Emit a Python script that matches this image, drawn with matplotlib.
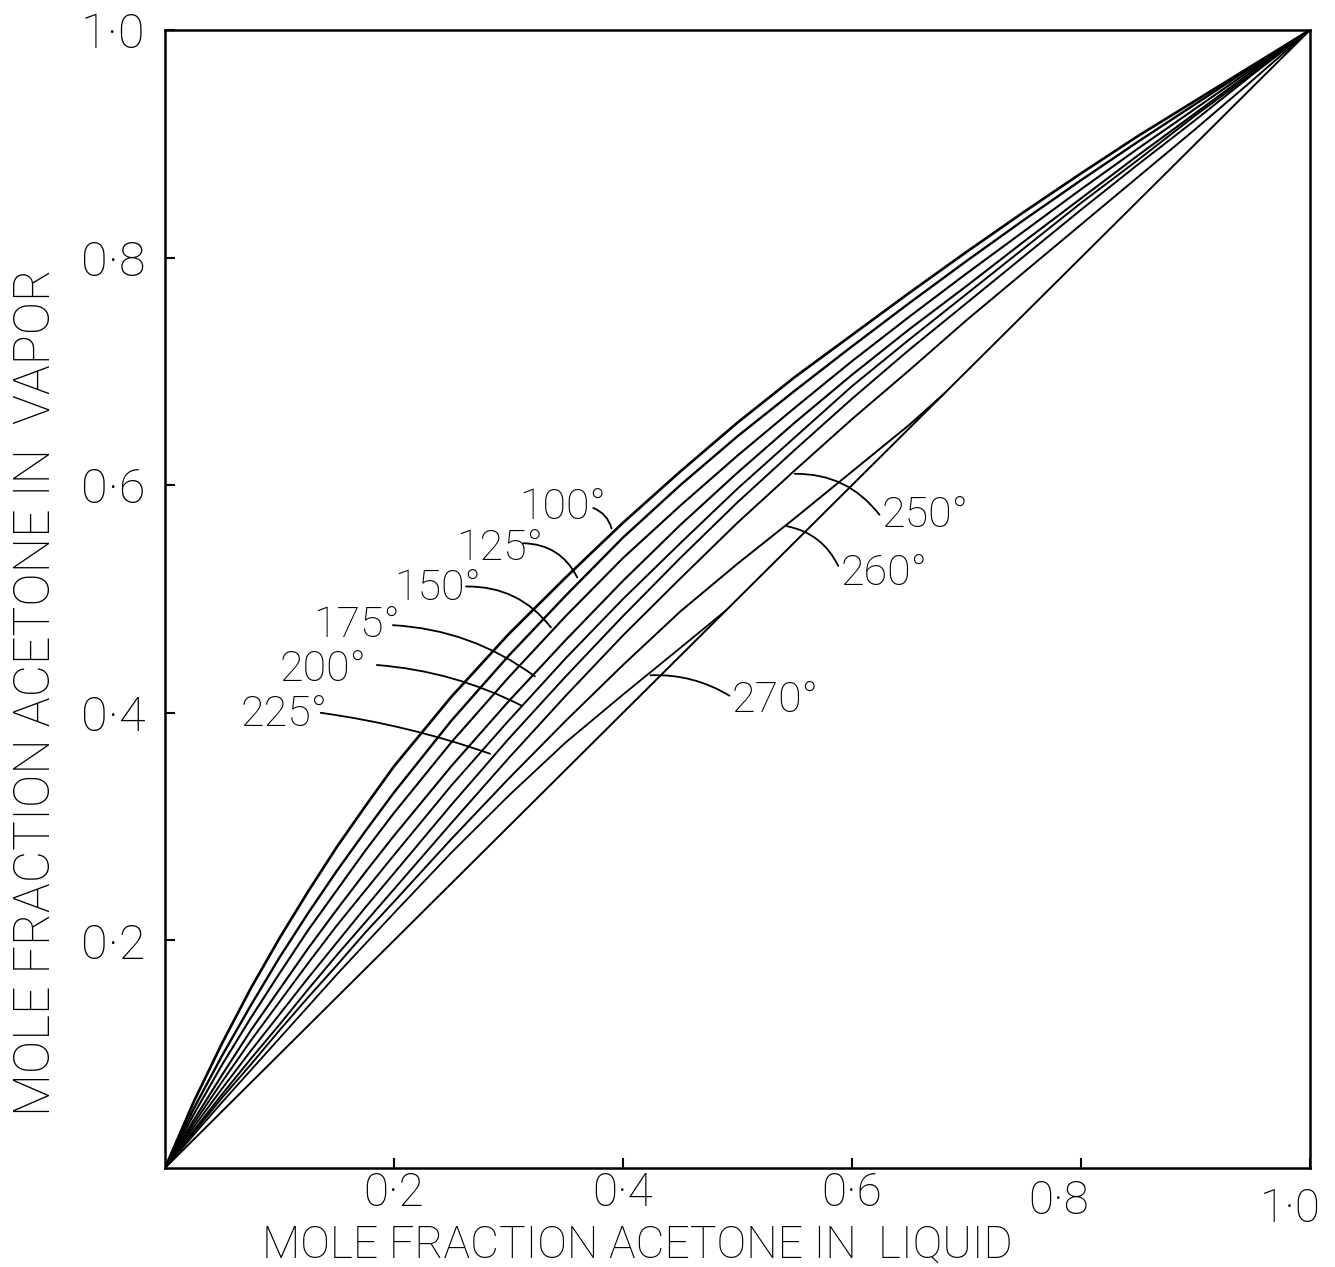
import matplotlib
matplotlib.use("Agg")
import matplotlib.pyplot as plt
from matplotlib.transforms import ScaledTranslation

# ---------------- data ----------------
x_grid = [0, 0.025, 0.05, 0.075, 0.1, 0.125, 0.15, 0.175, 0.2, 0.25, 0.3, 0.35, 0.4,
          0.45, 0.5, 0.55, 0.6, 0.65, 0.7, 0.75, 0.8, 0.85, 0.9, 0.95, 1.0]
y_100 = [0, 0.058, 0.110, 0.158, 0.202, 0.243, 0.282, 0.318, 0.353, 0.414, 0.469, 0.519, 0.567,
         0.612, 0.655, 0.695, 0.732, 0.769, 0.805, 0.840, 0.874, 0.907, 0.938, 0.969, 1.0]
y_125 = [0, 0.052, 0.099, 0.143, 0.185, 0.224, 0.261, 0.296, 0.330, 0.393, 0.450, 0.503, 0.554,
         0.600, 0.643, 0.683, 0.722, 0.760, 0.797, 0.833, 0.868, 0.902, 0.935, 0.968, 1.0]
y_150 = [0, 0.047, 0.091, 0.132, 0.171, 0.209, 0.244, 0.279, 0.312, 0.374, 0.431, 0.485, 0.536,
         0.582, 0.626, 0.668, 0.709, 0.748, 0.786, 0.823, 0.860, 0.896, 0.931, 0.966, 1.0]
y_175 = [0, 0.042, 0.082, 0.121, 0.157, 0.193, 0.227, 0.260, 0.292, 0.353, 0.410, 0.464, 0.516,
         0.565, 0.611, 0.655, 0.697, 0.737, 0.775, 0.814, 0.852, 0.890, 0.927, 0.964, 1.0]
y_200 = [0, 0.039, 0.076, 0.112, 0.146, 0.180, 0.213, 0.244, 0.275, 0.336, 0.393, 0.448, 0.500,
         0.549, 0.597, 0.642, 0.687, 0.728, 0.768, 0.808, 0.848, 0.886, 0.925, 0.962, 1.0]
y_225 = [0, 0.036, 0.070, 0.103, 0.135, 0.167, 0.198, 0.229, 0.259, 0.319, 0.377, 0.432, 0.485,
         0.536, 0.585, 0.631, 0.676, 0.719, 0.760, 0.801, 0.842, 0.882, 0.921, 0.961, 1.0]
y_250 = [0, 0.033, 0.065, 0.096, 0.126, 0.157, 0.187, 0.216, 0.245, 0.303, 0.360, 0.415, 0.468,
         0.518, 0.567, 0.613, 0.658, 0.701, 0.745, 0.787, 0.829, 0.871, 0.913, 0.956, 1.0]
x_260 = [0, 0.025, 0.05, 0.075, 0.1, 0.125, 0.15, 0.175, 0.2, 0.25, 0.3, 0.35, 0.4, 0.45,
         0.5, 0.55, 0.6, 0.65, 0.68]
y_260 = [0, 0.031, 0.062, 0.091, 0.121, 0.150, 0.178, 0.207, 0.234, 0.289, 0.342, 0.393, 0.442,
         0.489, 0.531, 0.571, 0.612, 0.653, 0.68]
x_270 = [0, 0.025, 0.05, 0.075, 0.1, 0.125, 0.15, 0.175, 0.2, 0.25, 0.3, 0.35, 0.4, 0.45, 0.49]
y_270 = [0, 0.029, 0.058, 0.086, 0.114, 0.142, 0.170, 0.197, 0.224, 0.277, 0.327, 0.374, 0.416,
         0.457, 0.49]
x_diag = [0, 1.0]
y_diag = [0, 1.0]

curve_labels = ["100°", "125°", "150°", "175°", "200°", "225°", "250°", "260°", "270°"]
tick_values = [0.2, 0.4, 0.6, 0.8, 1.0]
x_tick_labels = ["0·2", "0·4", "0·6", "0·8", "1·0"]
y_tick_labels = ["0·2", "0·4", "0·6", "0·8", "1·0"]
x_title = "MOLE FRACTION ACETONE IN  LIQUID"
y_title = "MOLE FRACTION ACETONE IN  VAPOR"

# ---------------- layout / style ----------------
plt.rcParams["font.family"] = ["Roboto", "DejaVu Sans"]
plt.rcParams["font.weight"] = "light"

W, H = 1335, 1267
fig = plt.figure(figsize=(W / 100, H / 100), dpi=100)
ax = fig.add_axes([165 / W, 1 - 1168 / H, (1310 - 165) / W, (1168 - 30) / H])
ax.set_xlim(0, 1)
ax.set_ylim(0, 1)

curves = [
    (x_grid, y_100, 1.9), (x_grid, y_125, 1.7), (x_grid, y_150, 1.5),
    (x_grid, y_175, 1.5), (x_grid, y_200, 1.4), (x_grid, y_225, 1.4),
    (x_grid, y_250, 1.4), (x_260, y_260, 1.4), (x_270, y_270, 1.3),
    (x_diag, y_diag, 1.4),
]
for xs, ys, lw in curves:
    ax.plot(xs, ys, color="black", lw=lw, solid_capstyle="round",
            solid_joinstyle="round")

# label placement: (text left/baseline), leader start, leader end, curvature
label_layout = [
    ((0.309, 0.570), (0.374, 0.580), (0.390, 0.562), -0.25),
    ((0.254, 0.534), (0.313, 0.549), (0.360, 0.519), -0.30),
    ((0.200, 0.499), (0.263, 0.511), (0.337, 0.475), -0.25),
    ((0.129, 0.467), (0.199, 0.477), (0.323, 0.432), -0.15),
    ((0.100, 0.428), (0.185, 0.442), (0.312, 0.406), -0.10),
    ((0.066, 0.388), (0.136, 0.400), (0.284, 0.364), -0.05),
    ((0.626, 0.563), (0.624, 0.574), (0.550, 0.610), 0.25),
    ((0.590, 0.512), (0.588, 0.529), (0.543, 0.564), 0.25),
    ((0.495, 0.401), (0.493, 0.415), (0.424, 0.433), 0.15),
]
for lab, (tpos, p0, p1, rad) in zip(curve_labels, label_layout):
    ax.text(tpos[0], tpos[1], lab, fontsize=31, ha="left", va="baseline")
    ax.annotate("", xy=p1, xytext=p0,
                arrowprops=dict(arrowstyle="-", lw=1.3, color="black",
                                shrinkA=0, shrinkB=0,
                                connectionstyle=f"arc3,rad={rad}"))

ax.set_xticks(tick_values)
ax.set_xticklabels(x_tick_labels, fontsize=33)
ax.set_yticks(tick_values)
ax.set_yticklabels(y_tick_labels, fontsize=35)
ax.tick_params(direction="in", length=7, width=1.5, pad=2)
ax.tick_params(axis="y", pad=14)
for sp in ax.spines.values():
    sp.set_linewidth(1.8)

# hand-lettered offsets of the last two x tick labels
xlabs = ax.get_xticklabels()
for lbl, (dx, dy) in zip(xlabs[3:], [(-16, -6), (-14, -12)]):
    lbl.set_transform(lbl.get_transform() + ScaledTranslation(dx / 72, dy / 72, fig.dpi_scale_trans))

fig.text(637 / W, 1 - 1245 / H, x_title, fontsize=32, ha="center", va="center")
fig.text(36 / W, 1 - 692 / H, y_title, fontsize=36, ha="center", va="center",
         rotation=90)

fig.savefig("out.png", dpi=100, facecolor="white")
